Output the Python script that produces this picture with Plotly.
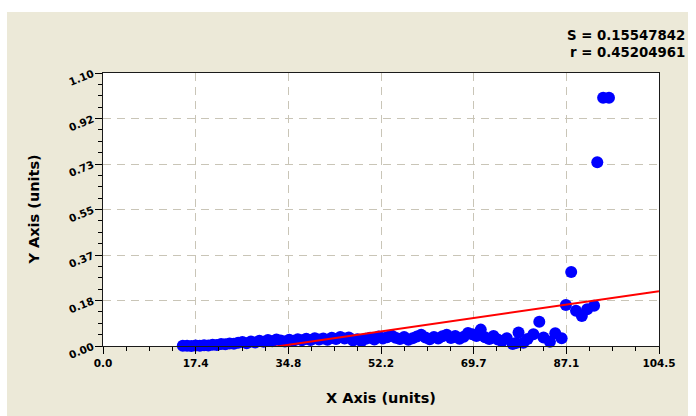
import numpy as np
import plotly.graph_objects as go

# Measured samples
x_vals = [
    15.0, 15.8, 16.6, 17.4, 18.2, 19.0, 19.8, 20.6, 21.4, 22.2,
    23.0, 23.8, 24.6, 25.4, 26.2, 27.0, 27.8, 28.6, 29.4, 30.2,
    31.0, 31.8, 32.6, 33.4, 34.2, 35.0, 35.8, 36.6, 37.4, 38.2,
    39.0, 39.8, 40.6, 41.4, 42.2, 43.0, 43.8, 44.6, 45.4, 46.2,
    47.0, 47.8, 48.6, 49.4, 50.2, 51.0, 51.8, 52.6, 53.4, 54.2,
    55.0, 55.8, 56.6, 57.4, 58.2, 59.0, 59.8, 60.6, 61.4, 62.2,
    63.0, 63.8, 64.6, 65.4, 66.2, 67.0, 67.8, 68.6, 69.4, 70.2,
    71.0, 71.8, 72.6, 73.4, 74.2, 75.0, 75.9, 77.0, 77.6, 78.1,
    79.0, 79.8, 80.9, 82.0, 82.8, 84.0, 85.0, 86.2, 87.0, 88.0,
    88.9, 90.0, 91.0, 92.3, 92.9, 94.0, 95.1,
]
y_vals = [
    0.001, 0.001, 0.000, 0.002, 0.001, 0.003, 0.002, 0.005, 0.004, 0.008,
    0.007, 0.010, 0.009, 0.013, 0.016, 0.011, 0.018, 0.014, 0.021, 0.017,
    0.024, 0.019, 0.026, 0.022, 0.018, 0.025, 0.021, 0.027, 0.023, 0.029,
    0.024, 0.031, 0.026, 0.030, 0.025, 0.033, 0.028, 0.036, 0.030, 0.034,
    0.022, 0.027, 0.020, 0.029, 0.033, 0.026, 0.038, 0.030, 0.035, 0.042,
    0.033, 0.028, 0.036, 0.025, 0.031, 0.038, 0.045, 0.034, 0.027, 0.036,
    0.030, 0.039, 0.045, 0.032, 0.040, 0.029, 0.037, 0.052, 0.047, 0.040,
    0.066, 0.035, 0.028, 0.040, 0.026, 0.020, 0.031, 0.008, 0.012, 0.054,
    0.013, 0.028, 0.047, 0.098, 0.034, 0.017, 0.051, 0.031, 0.165, 0.298,
    0.142, 0.121, 0.148, 0.162, 0.740, 1.000, 1.000,
]

# Axis ticks
x_max = 104.5
y_max = 1.10
x_tick_text = ["0.0", "17.4", "34.8", "52.2", "69.7", "87.1", "104.5"]
y_tick_text = ["0.00", "0.18", "0.37", "0.55", "0.73", "0.92", "1.10"]

stats_lines = ["S = 0.15547842", "r = 0.45204961"]

# Least-squares line through the samples
slope, intercept = np.polyfit(x_vals, y_vals, 1)
fit_x = np.array([0.0, x_max])
fit_y = slope * fit_x + intercept

BEIGE = "#ECE9D8"
FONT = "DejaVu Sans"

# Plot-area geometry in pixels (696 x 416 page)
W, H = 696, 416
L, R, T, B = 103, 659, 73, 346


def px_x(px):
    return (px - L) / (R - L)


def px_y(py):
    return (B - py) / (B - T)


n = len(x_tick_text) - 1
x_ticks = [x_max * i / n for i in range(n + 1)]
y_ticks = [y_max * i / n for i in range(n + 1)]
x_minor = [x_max * i / (n * 4) for i in range(n * 4 + 1)]
y_minor = [y_max * i / (n * 4) for i in range(n * 4 + 1)]

fig = go.Figure()
fig.add_trace(go.Scatter(
    x=x_vals, y=y_vals, mode="markers",
    marker=dict(color="#0000FF", size=12, line=dict(width=0)),
    cliponaxis=False, showlegend=False,
))
fig.add_trace(go.Scatter(
    x=fit_x, y=fit_y, mode="lines",
    line=dict(color="#FF0000", width=2),
    showlegend=False,
))

axis_common = dict(
    showline=True, linecolor="#1a1a1a", linewidth=1, mirror=True,
    ticks="outside", ticklen=7, tickcolor="#000000", tickwidth=1,
    showgrid=True, gridcolor="#C9C5B7", gridwidth=1, griddash="8px,6px",
    zeroline=False,
    tickfont=dict(family=FONT, size=10.5, color="#000000", weight="bold"),
)

fig.update_xaxes(
    range=[0, x_max], tickmode="array", tickvals=x_ticks, ticktext=x_tick_text,
    minor=dict(tickvals=x_minor, ticks="outside", ticklen=4, tickcolor="#000000",
               showgrid=False),
    **axis_common,
)
fig.update_yaxes(
    range=[0, y_max], tickmode="array", tickvals=y_ticks, ticktext=y_tick_text,
    tickangle=-22,
    minor=dict(tickvals=y_minor, ticks="outside", ticklen=4, tickcolor="#000000",
               showgrid=False),
    **axis_common,
)

annotations = [
    dict(text="X Axis (units)", xref="paper", yref="paper",
         x=0.5, y=px_y(398), xanchor="center", yanchor="middle", showarrow=False,
         font=dict(family=FONT, size=14.5, color="#000000", weight="bold")),
    dict(text="Y Axis (units)", xref="paper", yref="paper", textangle=-90,
         x=px_x(33), y=0.5, xanchor="center", yanchor="middle", showarrow=False,
         font=dict(family=FONT, size=14.5, color="#000000", weight="bold")),
]
for i, line in enumerate(stats_lines):
    annotations.append(dict(
        text=line, xref="paper", yref="paper",
        x=px_x(687), y=px_y(35 + 17 * i), xanchor="right", yanchor="middle",
        showarrow=False,
        font=dict(family=FONT, size=13.3, color="#000000", weight="bold"),
    ))

# White page strips around the beige panel
strip = dict(type="rect", xref="paper", yref="paper", fillcolor="#FFFFFF",
             line=dict(width=0), layer="below")
shapes = [
    dict(strip, x0=px_x(0), x1=px_x(W), y0=px_y(12), y1=px_y(0)),
    dict(strip, x0=px_x(0), x1=px_x(7), y0=px_y(H), y1=px_y(0)),
    dict(strip, x0=px_x(688), x1=px_x(W), y0=px_y(H), y1=px_y(0)),
]

fig.update_layout(
    width=W, height=H,
    margin=dict(l=L, r=W - R, t=T, b=H - B, pad=0),
    paper_bgcolor=BEIGE, plot_bgcolor="#FFFFFF",
    font=dict(family=FONT, color="#000000"),
    annotations=annotations, shapes=shapes,
    showlegend=False,
)

fig.write_html("out.html")
